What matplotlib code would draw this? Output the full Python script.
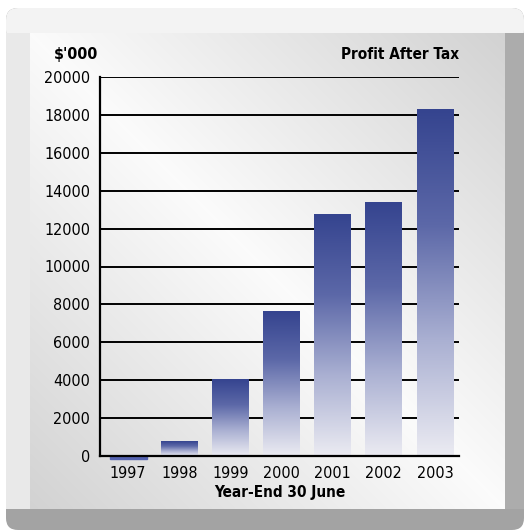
import numpy as np
import matplotlib.pyplot as plt
from matplotlib.colors import LinearSegmentedColormap
from matplotlib.patches import Rectangle, FancyBboxPatch

years = ['1997', '1998', '1999', '2000', '2001', '2002', '2003']
profit = [-150, 790, 4060, 7650, 12720, 13400, 18310]
y_ticks = list(range(0, 20001, 2000))

W, H = 526, 532
fig = plt.figure(figsize=(W / 100, H / 100), dpi=100)
plt.rcParams['font.family'] = ['DejaVu Sans']
plt.rcParams['font.stretch'] = 'condensed'

# background frame, drawn in pixel coordinates (y down)
bg = fig.add_axes([0, 0, 1, 1])
bg.set_xlim(0, W)
bg.set_ylim(H, 0)
bg.axis('off')

x0, y0, x1, y1 = 6, 8, 524, 530      # outer box
ix0, iy0, ix1, iy1 = 30, 33, 505, 509  # inner panel

bg.add_patch(FancyBboxPatch((x0 + 12, y0 + 12), x1 - x0 - 24, y1 - y0 - 24,
                            boxstyle='round,pad=12', color='#a3a3a3', lw=0))
bg.add_patch(FancyBboxPatch((x0 + 12, y0 + 12), x1 - x0 - 24, 10,
                            boxstyle='round,pad=12', color='#f3f3f3', lw=0))
bg.add_patch(Rectangle((x0, iy0), ix0 - x0, iy1 - iy0, color='#e9e9e9', lw=0))
bg.add_patch(Rectangle((ix1, iy0), x1 - ix1, iy1 - iy0, color='#acacac', lw=0))

# inner panel: light along the main diagonal, greyer toward the other corners
gx, gy = np.meshgrid(np.linspace(0, 1, 200), np.linspace(0, 1, 200))
d = np.abs(gx - gy)
shade = 0.985 - 0.16 * d
bg.imshow(np.dstack([shade, shade, shade]), extent=(ix0, ix1, iy1, iy0),
          aspect='auto', interpolation='bilinear', zorder=3)

ax = fig.add_axes([100 / W, (H - 456) / H, (459 - 100) / W, (456 - 77) / H])
ax.patch.set_alpha(0)

for v in y_ticks[1:]:
    ax.axhline(v, color='black', lw=1.4, zorder=1)

bar_cmap = LinearSegmentedColormap.from_list(
    'bar', ['#ebebf2', '#aab0d2', '#5c68a8', '#35448f'])
grad = np.linspace(0, 1, 256).reshape(-1, 1)
bw = 0.72
for i, v in enumerate(profit):
    if v >= 0:
        ax.imshow(grad, cmap=bar_cmap, origin='lower', aspect='auto',
                  extent=(i - bw / 2, i + bw / 2, 0, v), zorder=2)
    else:
        ax.add_patch(Rectangle((i - bw / 2, v), bw, -v, color='#5563b0',
                               clip_on=False, zorder=2))
ax.set_xlim(-0.55, 6.47)
ax.set_ylim(0, 20000)

for s in ['top', 'right']:
    ax.spines[s].set_visible(False)
ax.spines['left'].set_linewidth(1.6)
ax.spines['bottom'].set_linewidth(1.6)
ax.spines['left'].set_zorder(3)
ax.spines['bottom'].set_zorder(3)

ax.set_yticks(y_ticks)
ax.set_yticklabels([str(v) for v in y_ticks], fontsize=11.5)
ax.set_xticks(range(len(years)))
ax.set_xticklabels(years, fontsize=11.5)
ax.tick_params(length=0, pad=7)

ax.set_xlabel('Year-End 30 June', fontsize=11, fontweight='bold', labelpad=3)
ax.text(-0.067, 1.06, "$'000", transform=ax.transAxes, ha='center', va='center',
        fontsize=11.5, fontweight='bold')
ax.text(1.0, 1.06, 'Profit After Tax', transform=ax.transAxes, ha='right',
        va='center', fontsize=11, fontweight='bold')

fig.savefig('out.png', dpi=100)
